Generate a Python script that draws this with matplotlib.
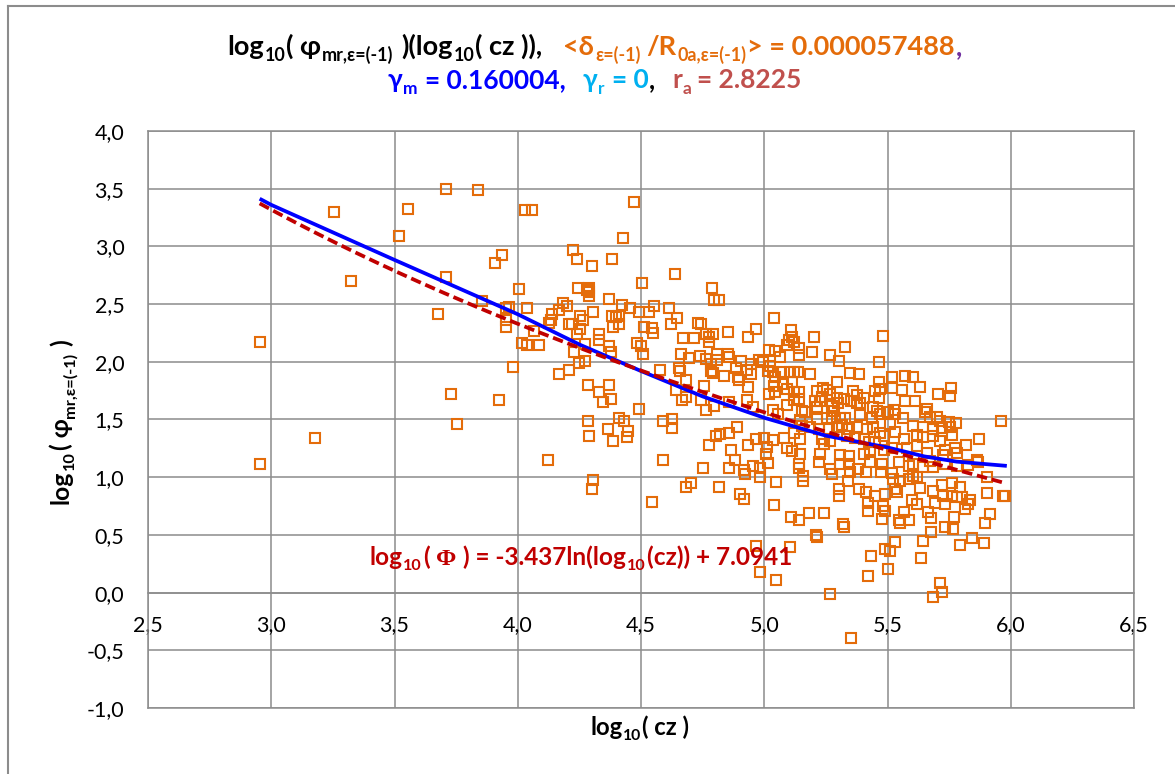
import matplotlib
matplotlib.use('Agg')
import matplotlib.pyplot as plt
import numpy as np
from matplotlib.transforms import IdentityTransform
from matplotlib.ticker import MultipleLocator, FuncFormatter
from matplotlib.lines import Line2D

# ---------------- data ----------------
obs_x = [
 2.953, 2.953, 3.176, 3.254, 3.322, 3.518, 3.555, 3.707, 3.838, 3.707, 3.678, 3.855, 3.907, 3.938,
 4.007, 3.953, 3.966, 3.953, 3.953, 4.018, 4.036, 3.980, 3.730, 3.923, 3.754, 4.031, 4.036,
 4.058, 4.470, 4.428, 4.223, 4.239, 4.384, 4.301, 4.638, 4.504, 4.246, 4.290, 4.290, 4.280, 4.290,
 4.788, 4.797, 4.818, 4.372, 4.182, 4.199,
 4.423, 4.455, 4.491, 4.554, 4.534, 4.612, 4.645, 4.623, 4.307, 4.166, 4.139, 4.135, 4.126,
 4.253, 4.266, 4.207, 4.220, 4.253, 4.239,
 4.382, 4.399, 4.409, 4.388, 4.409,
 4.514, 4.545, 4.547, 4.065, 4.088,
 4.331, 4.331, 4.274, 4.230, 4.372, 4.378, 4.482, 4.501, 4.509,
 4.166, 4.207, 4.247, 4.274,
 4.731, 4.742, 4.764, 4.777, 4.774, 4.791, 4.853, 4.936, 4.966, 4.669, 4.714,
 4.662, 4.696, 4.739, 4.764, 4.807, 4.807, 4.853, 4.855, 4.907, 4.947, 4.977,
 4.655, 4.658, 4.577, 4.784, 4.784, 4.791, 4.838, 4.885, 4.893, 4.899, 4.931, 4.947, 4.934,
 4.682, 4.757, 4.642, 4.666, 4.745, 4.764, 4.796, 4.682, 4.858, 4.928, 4.955,
 4.285, 4.331, 4.345, 4.372, 4.378, 4.491,
 4.285, 4.366, 4.409, 4.432, 4.447, 4.442, 4.288, 4.388,
 4.591, 4.626, 4.626,
 4.804, 4.820, 4.858, 4.891, 4.777, 4.864, 4.880, 4.936, 4.966, 4.753, 4.855, 4.918, 4.953, 4.982,
 4.982, 4.923, 5.007,
 4.123, 4.588, 4.307, 4.301, 4.682, 4.704, 4.818, 4.901, 4.918, 4.545, 4.967, 4.981,
 5.038, 5.108, 5.200, 5.481, 5.099, 5.112, 5.119, 5.092, 5.143, 5.143, 5.018, 5.045, 5.065, 5.193,
 5.268, 5.303, 5.328, 5.464,
 4.995, 5.024, 5.014, 5.035, 5.068, 5.103, 5.119, 5.135, 5.186, 5.349, 5.386,
 5.045, 5.038, 5.078, 5.092, 5.112, 5.297, 5.464, 5.518, 5.470,
 5.018, 5.045, 5.119, 5.143, 5.119, 5.139,
 5.214, 5.238, 5.254, 5.268, 5.234,
 5.295, 5.322, 5.362, 5.378, 5.403, 5.389,
 5.450, 5.464, 5.443, 5.457,
 5.207, 5.227, 5.214, 5.274, 5.301, 5.281, 5.351, 5.376,
 5.035, 5.054, 5.092, 5.153, 5.166,
 5.389, 5.436, 5.470, 5.504,
 5.146, 5.214, 5.254, 5.274, 5.308, 5.328,
 5.153, 5.186, 5.224, 5.261, 5.295, 5.315, 5.342, 5.376, 5.416, 5.443, 5.470, 5.511,
 4.997, 5.011, 5.035, 5.092, 5.081,
 5.119, 5.146, 5.234, 5.268, 5.241,
 5.335, 5.369, 5.403, 5.423, 5.450, 5.484,
 5.112, 5.146, 5.227, 5.308, 5.342, 5.403, 5.430, 5.484, 5.518,
 5.014, 5.143, 5.139, 5.224, 5.268, 5.274, 5.308, 5.342, 5.349, 5.382, 5.413, 5.430, 5.477, 5.473, 5.518,
 5.159, 5.159, 5.049,
 5.305, 5.303, 5.338, 5.386, 5.413, 5.450, 5.491, 5.538, 5.420, 5.480, 5.490, 5.420, 5.477,
 5.041, 5.108, 5.143, 5.180, 5.241, 5.319, 5.322,
 5.211, 5.214, 5.103, 5.049, 5.268,
 5.432, 5.491, 5.511, 5.532, 5.504, 5.421, 5.351,
 5.518, 5.573, 5.604, 5.632, 5.558,
 5.703, 5.757, 5.754,
 5.573, 5.612, 5.527, 5.531, 5.653, 5.662, 5.562,
 5.673, 5.700, 5.711, 5.751, 5.778, 5.959,
 5.605, 5.643, 5.684, 5.720, 5.754,
 5.531, 5.568, 5.619, 5.646, 5.686, 5.714, 5.761, 5.873, 5.819,
 5.578, 5.619, 5.659, 5.734, 5.781, 5.774, 5.862,
 5.673, 5.727,
 5.545, 5.586, 5.605, 5.646, 5.686, 5.734, 5.781, 5.828, 5.869,
 5.903,
 5.524, 5.551, 5.586, 5.619, 5.605, 5.630, 5.531,
 5.686, 5.720, 5.761, 5.795, 5.761, 5.781, 5.801, 5.828, 5.815, 5.835,
 5.903, 5.977, 5.970, 5.727,
 5.599, 5.619, 5.693, 5.734, 5.666, 5.678, 5.565,
 5.545, 5.586, 5.551, 5.768, 5.734, 5.765,
 5.914, 5.896,
 5.676, 5.643, 5.795, 5.842, 5.892,
 5.635,
 5.714, 5.722, 5.684,
]
obs_y = [
 2.174, 1.111, 1.337, 3.297, 2.698, 3.086, 3.323, 3.494, 3.488, 2.738, 2.414, 2.530, 2.857, 2.929,
 2.634, 2.466, 2.478, 2.365, 2.298, 2.159, 2.145, 1.951, 1.725, 1.673, 1.458, 3.312, 2.466,
 3.312, 3.381, 3.069, 2.965, 2.890, 2.890, 2.827, 2.763, 2.682, 2.642, 2.642, 2.604, 2.618, 2.566,
 2.642, 2.538, 2.532, 2.540, 2.512, 2.486,
 2.491, 2.468, 2.428, 2.486, 2.428, 2.462, 2.382, 2.329, 2.434, 2.445, 2.416, 2.358, 2.335,
 2.399, 2.364, 2.324, 2.324, 2.283, 2.237,
 2.399, 2.387, 2.393, 2.301, 2.329,
 2.301, 2.295, 2.249, 2.266, 2.142,
 2.243, 2.191, 2.150, 2.087, 2.136, 2.081, 2.162, 2.139, 2.069,
 1.896, 1.931, 1.988, 2.006,
 2.335, 2.329, 2.237, 2.214, 2.171, 2.237, 2.257, 2.214, 2.283, 2.208, 2.208,
 2.064, 2.035, 2.046, 2.023, 2.069, 2.012, 2.064, 2.040, 2.006, 1.983, 2.017,
 1.948, 1.919, 1.925, 1.977, 1.919, 1.902, 1.873, 1.948, 1.867, 1.838, 1.925, 1.896, 1.780,
 1.838, 1.792, 1.757, 1.665, 1.665, 1.578, 1.621, 1.694, 1.650, 1.671, 1.607,
 1.803, 1.734, 1.650, 1.795, 1.679, 1.590,
 1.491, 1.419, 1.509, 1.491, 1.399, 1.347, 1.361, 1.312,
 1.491, 1.506, 1.428,
 1.361, 1.376, 1.381, 1.434, 1.275, 1.237, 1.151, 1.275, 1.332, 1.081, 1.081, 1.064, 1.101, 1.081,
 1.000, 1.029, 1.202,
 1.145, 1.145, 0.977, 0.899, 0.919, 0.948, 0.913, 0.855, 0.812, 0.783, 0.404, 0.181,
 2.379, 2.277, 2.211, 2.220, 2.188, 2.211, 2.168, 2.147, 2.118, 2.058, 2.101, 2.095, 2.043, 2.084,
 2.061, 2.003, 2.124, 2.000,
 1.994, 1.965, 1.922, 1.908, 1.913, 1.908, 1.908, 1.908, 1.893, 1.899, 1.893,
 1.864, 1.792, 1.806, 1.760, 1.827, 1.821, 1.821, 1.777, 1.763,
 1.725, 1.734, 1.734, 1.737, 1.668, 1.676,
 1.749, 1.772, 1.754, 1.720, 1.697,
 1.685, 1.676, 1.743, 1.714, 1.685, 1.639,
 1.749, 1.685, 1.604, 1.575,
 1.656, 1.662, 1.604, 1.618, 1.639, 1.575, 1.662, 1.647,
 1.581, 1.546, 1.627, 1.575, 1.561,
 1.540, 1.517, 1.546, 1.561,
 1.494, 1.503, 1.517, 1.511, 1.511, 1.511,
 1.445, 1.431, 1.416, 1.416, 1.431, 1.454, 1.416, 1.431, 1.416, 1.431, 1.387, 1.460,
 1.344, 1.263, 1.321, 1.257, 1.344,
 1.379, 1.329, 1.329, 1.315, 1.286,
 1.358, 1.344, 1.329, 1.309, 1.301, 1.358,
 1.228, 1.205, 1.199, 1.194, 1.185, 1.205, 1.234, 1.234, 1.257,
 1.122, 1.116, 1.081, 1.136, 1.072, 1.029, 1.116, 1.116, 1.043, 1.072, 1.043, 1.130, 1.116, 1.043, 1.035,
 1.014, 0.971, 0.959,
 0.899, 0.841, 0.971, 0.899, 0.870, 0.841, 0.855, 0.870, 0.774, 0.754, 0.704, 0.704, 0.638,
 0.762, 0.652, 0.629, 0.687, 0.687, 0.594, 0.571,
 0.501, 0.478, 0.397, 0.107, -0.009,
 0.316, 0.377, 0.357, 0.435, 0.203, 0.142, -0.391,
 1.870, 1.879, 1.864, 1.783, 1.754,
 1.720, 1.777, 1.705,
 1.662, 1.656, 1.581, 1.546, 1.561, 1.590, 1.512,
 1.523, 1.523, 1.488, 1.480, 1.474, 1.488,
 1.445, 1.431, 1.416, 1.425, 1.431,
 1.396, 1.329, 1.367, 1.350, 1.358, 1.315, 1.367, 1.335, 1.280,
 1.257, 1.272, 1.214, 1.234, 1.214, 1.257, 1.147,
 1.142, 1.194,
 1.130, 1.101, 1.116, 1.087, 1.092, 1.116, 1.101, 1.110, 1.130,
 1.006,
 0.986, 0.971, 0.986, 1.000, 1.014, 0.908, 0.899,
 0.884, 0.936, 0.948, 0.919, 0.841, 0.827, 0.832, 0.769, 0.725, 0.803,
 0.864, 0.841, 0.835, 0.841,
 0.803, 0.769, 0.775, 0.769, 0.697, 0.647, 0.697,
 0.630, 0.630, 0.601, 0.659, 0.572, 0.552,
 0.682, 0.601,
 0.523, 0.445, 0.416, 0.474, 0.434,
 0.301,
 0.081, 0.003, -0.040,
]

# model curve (blue line)
model_x = [2.953, 3.0, 3.5, 4.0, 4.25, 4.5, 4.75, 5.0, 5.25, 5.5, 5.65, 5.78, 5.984]
model_y = [3.413, 3.360, 2.883, 2.412, 2.150, 1.920, 1.700, 1.515, 1.360, 1.258, 1.180, 1.135, 1.098]

# Excel logarithmic trendline coefficients (as printed on the chart)
trend_a = -3.437
trend_b = 7.0941

x_ticks = [2.5, 3.0, 3.5, 4.0, 4.5, 5.0, 5.5, 6.0, 6.5]
y_ticks = [-1.0, -0.5, 0.0, 0.5, 1.0, 1.5, 2.0, 2.5, 3.0, 3.5, 4.0]

# ---------------- styling ----------------
W, H, DPI = 1175, 774, 100
ORANGE = '#E46C0A'
BLUE = '#0000FF'
CYAN = '#00B0F0'
IRED = '#C0504D'
DRED = '#C00000'
PURPLE = '#7030A0'
BLACK = '#000000'
GRID = '#8C8C8C'
TFAM = ['Lato', 'DejaVu Sans']

plt.rcParams['font.family'] = TFAM

fig = plt.figure(figsize=(W / DPI, H / DPI), dpi=DPI)
fig.patch.set_facecolor('white')
ax = fig.add_axes([148 / W, 1 - 708 / H, (1134 - 148) / W, (708 - 131) / H])

ax.set_xlim(x_ticks[0], x_ticks[-1])
ax.set_ylim(y_ticks[0], y_ticks[-1])
ax.xaxis.set_major_locator(MultipleLocator(0.5))
ax.yaxis.set_major_locator(MultipleLocator(0.5))
fmt = FuncFormatter(lambda v, p: ('%.1f' % v).replace('.', ',').replace('-0,0', '0,0'))
ax.xaxis.set_major_formatter(fmt)
ax.yaxis.set_major_formatter(fmt)
ax.grid(True, color=GRID, linewidth=1.1, zorder=0)
ax.set_axisbelow(True)
for s in ['left', 'right', 'top', 'bottom']:
    ax.spines[s].set_color(GRID)
    ax.spines[s].set_linewidth(1.1)
ax.spines['bottom'].set_position(('data', 0))
ax.axhline(y_ticks[0], color=GRID, linewidth=1.1, clip_on=False, zorder=0)
ax.tick_params(axis='both', length=0, labelsize=15.5, colors='black')
ax.tick_params(axis='x', pad=16)
ax.tick_params(axis='y', pad=17)
for lab in ax.get_xticklabels() + ax.get_yticklabels():
    lab.set_family(TFAM)

# scatter of observations
ax.plot(obs_x, obs_y, linestyle='none', marker='s', markersize=6.6,
        markerfacecolor='none', markeredgecolor=ORANGE, markeredgewidth=1.5, zorder=3)

# model line
ax.plot(model_x, model_y, color=BLUE, linewidth=2.7, zorder=4, solid_capstyle='butt')

# logarithmic trendline
tx = np.linspace(min(obs_x), max(obs_x), 300)
ax.plot(tx, trend_a * np.log(tx) + trend_b, color=DRED, linewidth=2.7,
        linestyle=(0, (2.8, 1.3)), zorder=5)

# ---------------- rich text helper ----------------
fig.canvas.draw()
R = fig.canvas.get_renderer()


def rich(segs, cx, cy, size, target=None, rot=0, pad=0.03):
    def make(sz):
        items = []
        for s in segs:
            if isinstance(s, (int, float)):
                items.append((None, s * sz * DPI / 72, False))
                continue
            txt, col = s[0], s[1]
            sub = len(s) > 2 and s[2]
            fam = s[3] if len(s) > 3 else TFAM
            fs = sz * 0.66 if sub else sz
            t = fig.text(0, 0, txt, color=col, fontsize=fs, fontweight='bold',
                         family=fam, ha='left', va='baseline',
                         transform=IdentityTransform(), rotation_mode='anchor')
            w = t.get_window_extent(R).width + pad * sz * DPI / 72
            items.append((t, w, sub))
        return items

    items = make(size)
    total = sum(w for _, w, _ in items)
    if target:
        for t, _, _ in items:
            if t is not None:
                t.remove()
        size = size * target / total
        items = make(size)
        total = sum(w for _, w, _ in items)
    off = 0.22 * size * DPI / 72
    if rot == 0:
        x = cx - total / 2
        y = H - cy
        for t, w, sub in items:
            if t is not None:
                t.set_position((x, y - (off if sub else 0)))
            x += w
    else:
        y = (H - cy) - total / 2
        x = cx
        for t, w, sub in items:
            if t is not None:
                t.set_rotation(90)
                t.set_position((x + (off if sub else 0), y))
            y += w
    return size


# title line 1
rich([("log", BLACK), ("10", BLACK, True), ("( φ", BLACK), ("mr,ε=(-1)", BLACK, True), 0.25,
      (")(log", BLACK), ("10", BLACK, True), ("( cz )),", BLACK), 0.75,
      ("<δ", ORANGE), ("ε=(-1)", ORANGE, True), 0.2, ("/R", ORANGE), ("0a,ε=(-1)", ORANGE, True),
      ("> = 0.000057488", ORANGE), (",", PURPLE)],
     595, 55, 16, target=734)

# title line 2
rich([("γ", BLUE), ("m", BLUE, True), 0.25, ("= 0.160004,", BLUE), 0.6,
      ("γ", CYAN), ("r", CYAN, True), 0.25, ("= 0", CYAN), (",", BLACK), 0.6,
      ("r", IRED), ("a", IRED, True), 0.2, ("= 2.8225", IRED)],
     595, 88, 16, target=416)

# trendline equation
rich([("log", DRED), ("10", DRED, True), ("(", DRED), 0.25,
      ("Φ", DRED, False, ['Liberation Serif', 'DejaVu Serif']), 0.25,
      (") = -3.437ln(log", DRED), ("10", DRED, True), ("(cz)) + 7.0941", DRED)],
     581, 565, 16, target=423)

# x label
rich([("log", BLACK), ("10", BLACK, True), ("( cz )", BLACK)], 640, 735, 16, target=100)

# y label (rotated)
rich([("log", BLACK), ("10", BLACK, True), ("( φ", BLACK), ("mr,ε=(-1)", BLACK, True), 0.25,
      (")", BLACK)], 69, 421, 16, target=166, rot=90)

# chart area border (left and top edges visible)
fig.add_artist(Line2D([7.5 / W, 7.5 / W], [0, 1 - 6 / H], transform=fig.transFigure,
                      color='#8C8C8C', linewidth=1.5))
fig.add_artist(Line2D([7.5 / W, 1], [1 - 6 / H, 1 - 6 / H], transform=fig.transFigure,
                      color='#8C8C8C', linewidth=1.5))

fig.savefig('out.png', dpi=DPI)
